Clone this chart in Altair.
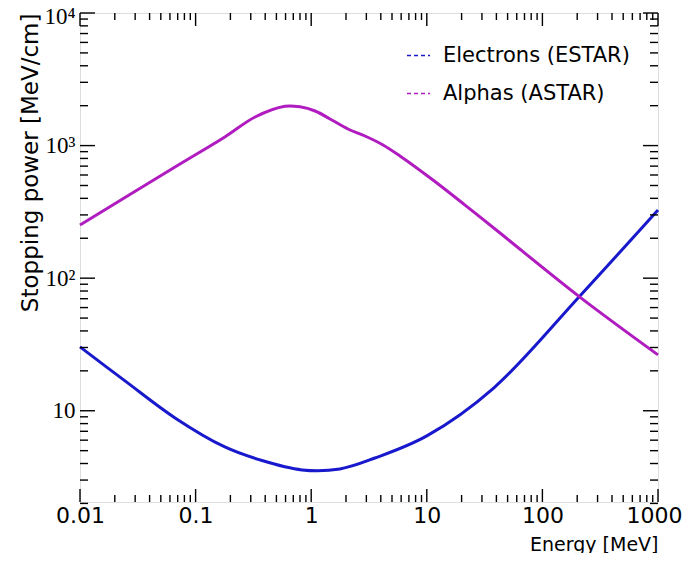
import altair as alt
import pandas as pd

# ---- data ----
series_names = ["Electrons (ESTAR)", "Alphas (ASTAR)"]
series_colors = ["#1818cc", "#b01cc0"]

energy_e = [0.01, 0.0245, 0.0664, 0.179, 0.36, 0.832, 1.77, 3.56, 10, 38.1, 211, 1000]
stop_e = [30.3, 16.8, 8.83, 5.33, 4.26, 3.58, 3.64, 4.4, 6.46, 14.9, 73.4, 327]

energy_a = [0.01, 0.0245, 0.0664, 0.179, 0.327, 0.593, 0.80, 1.08, 1.455, 2.08, 2.92,
            4.18, 5.86, 11.3, 21.4, 43, 211, 1000]
stop_a = [252, 406, 690, 1161, 1643, 1980, 1960, 1823, 1588, 1334, 1181,
          1011, 835, 550, 356, 219, 72, 26.4]

x_major = [0.01, 0.1, 1, 10, 100, 1000]
x_minor = [m * 10 ** d for d in range(-2, 3) for m in range(2, 10)]
y_major = [10, 100, 1000, 10000]
y_minor = [m * 10 ** d for d in range(0, 4) for m in range(2, 10)]

W, H = 578, 489
xs = alt.Scale(type="log", domain=[0.01, 1000], nice=False)
ys = alt.Scale(type="log", domain=[2.05, 10000], nice=False)

df = pd.concat([
    pd.DataFrame({"E": energy_e, "S": stop_e, "series": series_names[0]}),
    pd.DataFrame({"E": energy_a, "S": stop_a, "series": series_names[1]}),
])

y_label_expr = ("datum.value == 10 ? '10' : datum.value == 100 ? '10\u00b2' : "
                "datum.value == 1000 ? '10\u00b3' : '10\u2074'")

X_AXIS = alt.Axis(
    values=x_major, format="~g", ticks=False, tickSize=0, grid=False, domain=False,
    labelFont="DejaVu Sans", labelFontSize=22, labelPadding=3, labelColor="black",
    labelBaseline="top", labelFlush=False, labelOverlap=False,
    labelOffset={"condition": {"test": "datum.value == 1000", "value": -4}, "value": 0},
    title="Energy [MeV]", titleFont="DejaVu Sans", titleFontSize=19,
    titleFontWeight="normal", titleColor="black", titleAlign="right",
    titleBaseline="alphabetic", titleX=W, titleY=48, titleAnchor="end")

Y_AXIS = alt.Axis(
    values=y_major, ticks=False, tickSize=0, grid=False, domain=False,
    labelExpr=y_label_expr, labelFont="Liberation Serif", labelFontSize=23,
    labelPadding=5, labelColor="black", labelFlush=False, labelOverlap=False,
    labelAlign="right", labelBaseline="middle",
    labelOffset={"condition": {"test": "datum.value == 10000", "value": 3}, "value": 0},
    title="Stopping power [MeV/cm]", titleFont="DejaVu Sans", titleFontSize=23,
    titleFontWeight="normal", titleColor="black", titleAngle=270,
    titleAlign="right", titleBaseline="middle", titleX=-50, titleY=0)

lines = alt.Chart(df).mark_line(strokeWidth=3, interpolate="catmull-rom").encode(
    x=alt.X("E:Q", scale=xs, axis=X_AXIS),
    y=alt.Y("S:Q", scale=ys, axis=Y_AXIS),
    color=alt.Color("series:N", sort=series_names,
                    scale=alt.Scale(domain=series_names, range=series_colors),
                    legend=alt.Legend(
                        title=None, orient="none", legendX=326, legendY=30,
                        symbolType="stroke", symbolSize=529, symbolStrokeWidth=1.3,
                        symbolDash=[4, 3], labelFont="DejaVu Sans", labelFontSize=21,
                        labelColor="black", labelOffset=12, rowPadding=15,
                        padding=0, labelLimit=400)),
)


def ticks(vals, axis, side, length):
    base = alt.Chart(pd.DataFrame({"E": vals, "S": vals})).mark_rule(
        color="black", strokeWidth=1.4)
    if axis == "x":
        y0, y1 = (H, H - length) if side == "bottom" else (0, length)
        return base.encode(x=alt.X("E:Q", scale=xs, axis=X_AXIS),
                           y=alt.value(y0), y2=alt.value(y1))
    x0, x1 = (0, length) if side == "left" else (W, W - length)
    return base.encode(y=alt.Y("S:Q", scale=ys, axis=Y_AXIS),
                       x=alt.value(x0), x2=alt.value(x1))


tick_layers = [
    ticks(x_major, "x", "bottom", 13), ticks(x_minor, "x", "bottom", 7),
    ticks(x_major, "x", "top", 13), ticks(x_minor, "x", "top", 7),
    ticks(y_major, "y", "left", 15), ticks(y_minor, "y", "left", 8),
    ticks(y_major, "y", "right", 15), ticks(y_minor, "y", "right", 8),
]

chart = alt.layer(lines, *tick_layers).properties(
    width=W, height=H,
    autosize=alt.AutoSizeParams(type="none"),
    padding={"left": 72, "top": 5, "right": 25, "bottom": 51},
).configure_view(stroke="black", strokeWidth=2).configure(background="white")

chart.save("out.html", embed_options={"renderer": "svg", "actions": False})
